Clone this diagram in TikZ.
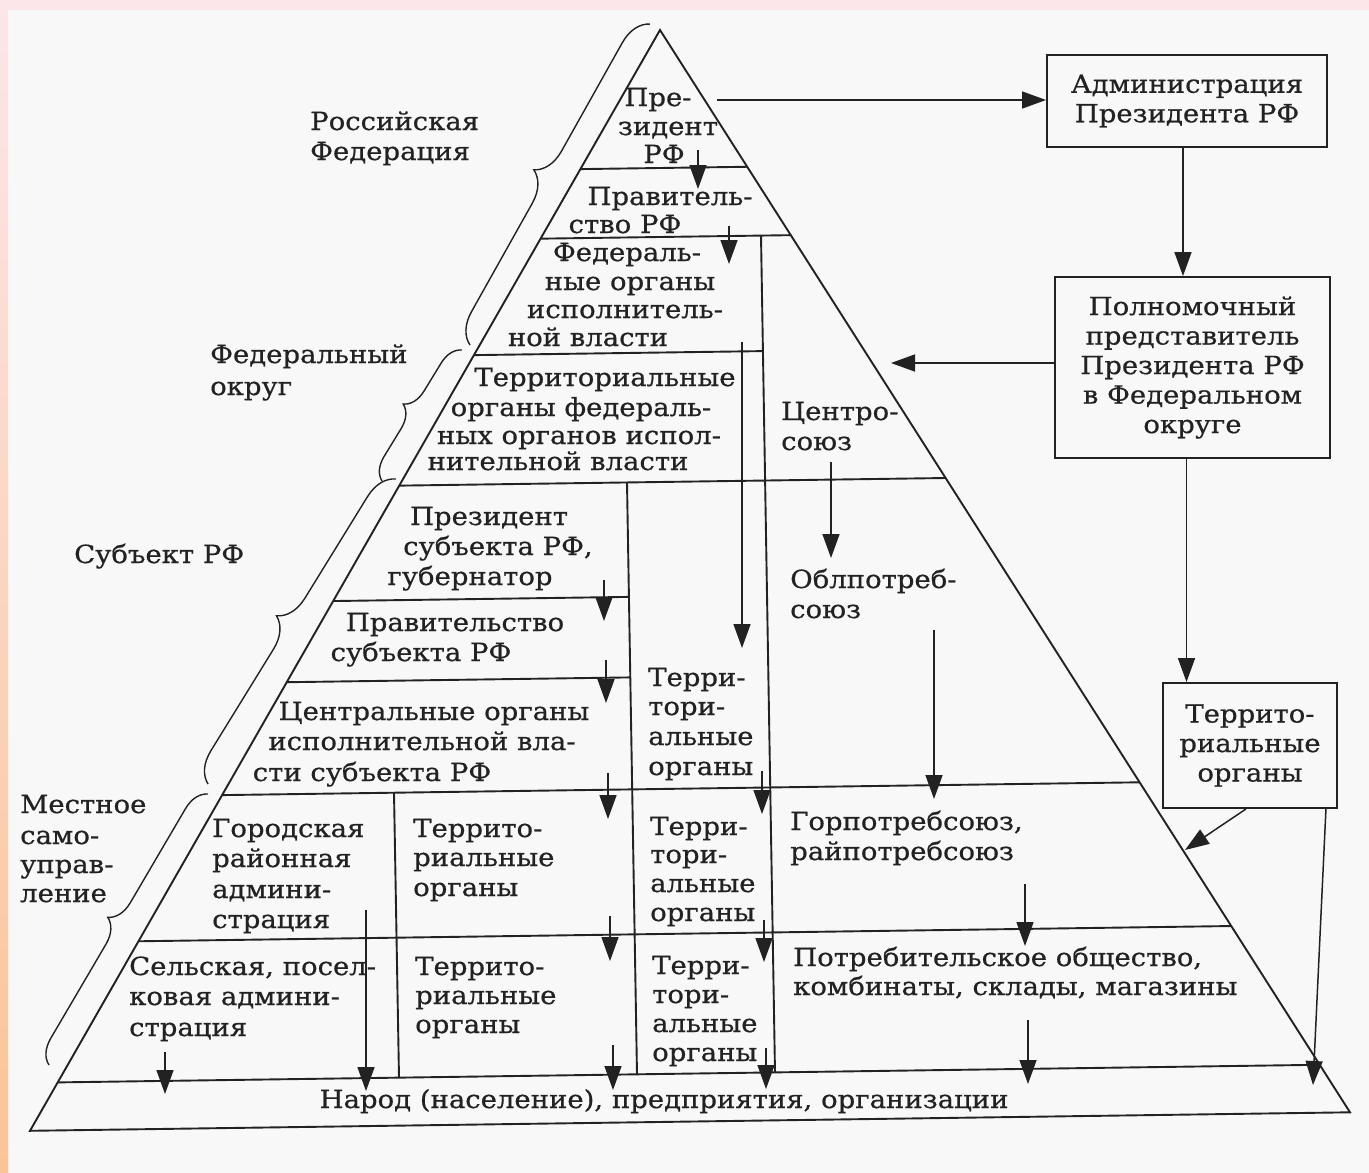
\documentclass[tikz,border=0pt]{standalone}
\usepackage{fontspec}
\setmainfont{DejaVu Serif}[FakeStretch=1.1,FakeBold=0.6]
\usetikzlibrary{arrows.meta,decorations.pathreplacing,calc}
\definecolor{ink}{RGB}{34,34,34}
\definecolor{paper}{RGB}{248,248,248}
\definecolor{topband}{RGB}{252,230,234}
\definecolor{leftband}{RGB}{250,196,150}
\tikzset{
  edge/.style={draw=ink, line width=1.9pt},
  arr/.style={draw=ink, line width=1.5pt, -{Triangle[length=24pt,width=17pt]}},
  lbl/.style={text=ink, inner sep=0pt, font=\fontsize{25}{29.5}\selectfont},
  ll/.style={lbl, anchor=base west},
  lc/.style={lbl, anchor=base},
  box/.style={draw=ink, line width=1.9pt, fill=paper, align=center, inner sep=0pt,
              text=ink, font=\fontsize{25}{29.5}\selectfont},
  brc/.style={draw=ink, line width=1.4pt, decorate, decoration={brace, amplitude=#1}},
}
\begin{document}
\begin{tikzpicture}[x=1pt,y=-1pt]
\useasboundingbox (0,0) rectangle (1369,1173);
\fill[paper] (0,0) rectangle (1369,1173);
\fill[topband] (0,0) rectangle (1369,10);
\shade[top color=topband, bottom color=leftband] (0,0) rectangle (8,1173);

% pyramid (the scan is turned by a little under one degree)
\coordinate (apex) at (660,30);
\coordinate (bl) at (30,1130.8);
\coordinate (br) at (1350,1112.3);
\begin{scope}
  \clip (apex) -- (bl) -- (br) -- cycle;
  \draw[edge] (0,177.2) -- (1369,158.1);
  \draw[edge] (0,246.2) -- (1369,227.1);
  \draw[edge] (0,361.7) -- (763,351.1);
  \draw[edge] (0,491.2) -- (1369,472.1);
  \draw[edge] (0,605.7) -- (629,596.9);
  \draw[edge] (0,686.2) -- (630.5,677.4);
  \draw[edge] (0,798.2) -- (1369,779.1);
  \draw[edge] (0,943.2) -- (1369,924.1);
  \draw[edge] (0,1083.2) -- (1369,1064.1);
\end{scope}
\draw[edge] (761,235.6) -- (775,1072.4);
\draw[edge] (627,482.5) -- (637,1074.3);
\draw[edge] (394,792.7) -- (399,1077.7);
\draw[edge, line join=miter] (apex) -- (bl) -- (br) -- cycle;

% braces
\draw[brc=30pt] (470,345) -- (650,24);
\draw[brc=22pt] (382,481) -- (462,350);
\draw[brc=30pt] (208,784) -- (396,479);
\draw[brc=24pt] (49,1065) -- (208,794);

% outside labels
\node[ll] (rf1) at (310,130) {Российская};
\node[ll] (rf2) at (310,160) {Федерация};
\node[ll] (fo1) at (210,363) {Федеральный};
\node[ll] (fo2) at (210,395) {округ};
\node[ll] (sub1) at (74,563) {Субъект РФ};
\node[ll] (ms1) at (20,813) {Местное};
\node[ll] (ms2) at (20,844) {само-};
\node[ll] (ms3) at (20,873) {управ-};
\node[ll] (ms4) at (20,902) {ление};

% pyramid interior, centred lines
\node[lc] (pr1) at (658,106) {Пре-};
\node[lc] (pr2) at (668,135) {зидент};
\node[lc] (pr3) at (664,163) {РФ};
\node[lc] (gv1) at (670,205) {Правитель-};
\node[lc] (gv2) at (625,233) {ство РФ};
\node[lc] (fe1) at (627,261) {Федераль-};
\node[lc] (fe2) at (630,290) {ные органы};
\node[lc] (fe3) at (625,318) {исполнитель-};
\node[lc] (fe4) at (588,346) {ной власти};
\node[lc] (tf1) at (605,386) {Территориальные};
\node[lc] (tf2) at (581,416) {органы федераль-};
\node[lc] (tf3) at (579,444) {ных органов испол-};
\node[lc] (tf4) at (558,470) {нительной власти};
\node[lc] (ps1) at (489,525) {Президент};
\node[lc] (ps2) at (498,555) {субъекта РФ,};
\node[lc] (ps3) at (470,585) {губернатор};
\node[lc] (gs1) at (455,631) {Правительство};
\node[lc] (gs2) at (421,661) {субъекта РФ};
\node[lc] (co1) at (434,720) {Центральные органы};
\node[lc] (co2) at (422,750) {исполнительной вла-};
\node[lc] (co3) at (372,781) {сти субъекта РФ};

% left-aligned blocks
\node[ll] (cs1) at (781,420) {Центро-};
\node[ll] (cs2) at (781,450) {союз};
\node[ll] (ob1) at (790,588) {Облпотреб-};
\node[ll] (ob2) at (790,618) {союз};
\node[ll] (ta1) at (648,686) {Терри-};
\node[ll] (ta2) at (648,715) {тори-};
\node[ll] (ta3) at (648,745) {альные};
\node[ll] (ta4) at (648,775) {органы};
\node[ll] (gr1) at (212,837) {Городская};
\node[ll] (gr2) at (212,867) {районная};
\node[ll] (gr3) at (212,898) {админи-};
\node[ll] (gr4) at (212,928) {страция};
\node[ll] (tg1) at (413,837) {Террито-};
\node[ll] (tg2) at (413,866) {риальные};
\node[ll] (tg3) at (413,896) {органы};
\node[ll] (tm1) at (650,835) {Терри-};
\node[ll] (tm2) at (650,863) {тори-};
\node[ll] (tm3) at (650,892) {альные};
\node[ll] (tm4) at (650,921) {органы};
\node[ll] (gp1) at (790,830) {Горпотребсоюз,};
\node[ll] (gp2) at (790,860) {райпотребсоюз};
\node[ll] (sl1) at (129,975) {Сельская, посел-};
\node[ll] (sl2) at (129,1005) {ковая админи-};
\node[ll] (sl3) at (129,1036) {страция};
\node[ll] (tl1) at (415,975) {Террито-};
\node[ll] (tl2) at (415,1004) {риальные};
\node[ll] (tl3) at (415,1033) {органы};
\node[ll] (tb1) at (652,974) {Терри-};
\node[ll] (tb2) at (652,1003) {тори-};
\node[ll] (tb3) at (652,1032) {альные};
\node[ll] (tb4) at (652,1061) {органы};
\node[ll] (po1) at (793,966) {Потребительское общество,};
\node[ll] (po2) at (793,995) {комбинаты, склады, магазины};
\node[lc] (nar) at (664,1108) {Народ (население), предприятия, организации};

% boxes on the right
\node[box, minimum width=280pt, minimum height=92pt] (adm) at (1187,101)
  {Администрация\\Президента РФ};
\node[box, minimum width=275pt, minimum height=181pt] (pol) at (1192.5,367.5)
  {Полномочный\\представитель\\Президента РФ\\в Федеральном\\округе};
\node[box, minimum width=174pt, minimum height=125pt] (ter) at (1250,745.5)
  {Террито-\\риальные\\органы};

% arrows inside the pyramid
\coordinate (a1s) at (698,150);  \coordinate (a1e) at (698,189);
\coordinate (a2s) at (729,226);  \coordinate (a2e) at (729,264);
\coordinate (a3s) at (742,342);  \coordinate (a3e) at (742,648);
\coordinate (a4s) at (831,462);  \coordinate (a4e) at (831,558);
\coordinate (a5s) at (604,580);  \coordinate (a5e) at (604,621);
\coordinate (a6s) at (606,660);  \coordinate (a6e) at (606,703);
\coordinate (a7s) at (608,773);  \coordinate (a7e) at (608,819);
\coordinate (a8s) at (762,771);  \coordinate (a8e) at (762,814);
\coordinate (a9s) at (934,630);  \coordinate (a9e) at (934,799);
\coordinate (a10s) at (1025,884); \coordinate (a10e) at (1025,946);
\coordinate (a11s) at (1028,1020); \coordinate (a11e) at (1028,1084);
\coordinate (a12s) at (610,916); \coordinate (a12e) at (610,961);
\coordinate (a13s) at (764,920); \coordinate (a13e) at (764,962);
\coordinate (a14s) at (165,1052); \coordinate (a14e) at (165,1094);
\coordinate (a15s) at (366,910); \coordinate (a15e) at (366,1091);
\coordinate (a16s) at (613,1045); \coordinate (a16e) at (613,1090);
\coordinate (a17s) at (766,1048); \coordinate (a17e) at (766,1089);
\foreach \i in {1,...,17} { \draw[arr] (a\i s) -- (a\i e); }

% arrows of the right-hand chain
\coordinate (r1s) at (717,100);
\draw[arr] (r1s) -- (r1s -| adm.west);
\coordinate (r2s) at ($(adm.south)+(-4,0)$);
\draw[arr] (r2s) -- (r2s |- pol.north);
\coordinate (r3e) at (891,363);
\draw[arr] (r3e -| pol.west) -- (r3e);
\coordinate (r4s) at ($(pol.south)+(-6,0)$);
\draw[arr] (r4s) -- (r4s |- ter.north);
\coordinate (r5s) at ($(ter.south)+(-4,0)$);
\coordinate (r5e) at (1185,850);
\draw[arr] (r5s) -- (r5e);
\coordinate (r6s) at ($(ter.south east)+(-12,0)$);
\coordinate (r6e) at (1313,1085);
\draw[arr] (r6s) -- (r6e);
\end{tikzpicture}
\end{document}
